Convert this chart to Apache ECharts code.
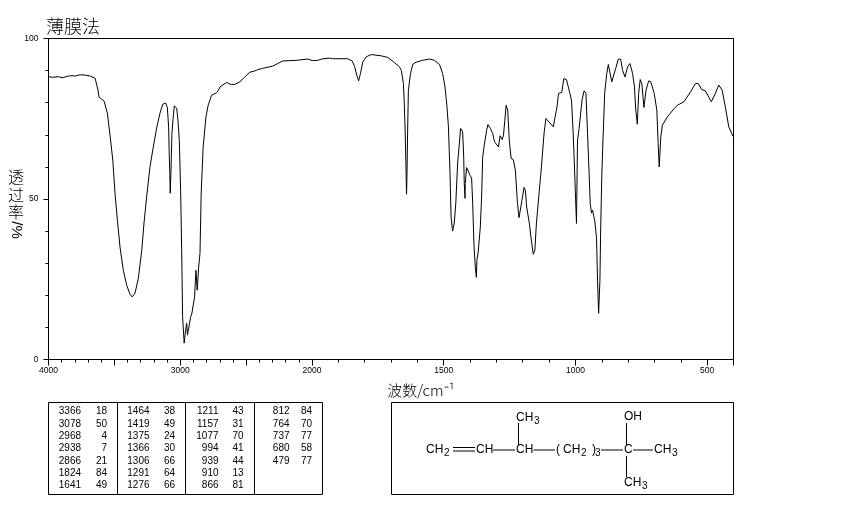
<!DOCTYPE html>
<html><head><meta charset="utf-8">
<style>html,body{margin:0;padding:0;background:#fff}#c{width:850px;height:510px}</style>
<script src="https://cdn.jsdelivr.net/npm/echarts@6/dist/echarts.min.js"></script>
</head><body><div id="c"></div>
<script>
const wavenumbers=[3995,3972,3927,3889,3851,3820,3798,3760,3722,3684,3646,3631,3624,3616,3601,3578,3570,3553,3533,3512,3495,3477,3457,3432,3406,3381,3364,3343,3318,3292,3275,3255,3230,3205,3179,3154,3133,3111,3098,3088,3083,3079,3076,3070,3063,3053,3045,3027,3017,3007,2997,2989,2982,2970,2962,2951,2945,2936,2921,2911,2901,2891,2881,2871,2860,2850,2841,2826,2805,2788,2762,2724,2709,2699,2686,2648,2618,2586,2548,2510,2472,2434,2411,2374,2298,2260,2222,2116,2033,1997,1978,1963,1933,1922,1865,1847,1838,1830,1823,1816,1807,1794,1775,1737,1712,1687,1668,1661,1653,1650,1646,1643,1641,1639,1637,1634,1626,1617,1605,1580,1554,1535,1516,1504,1495,1488,1482,1476,1472,1468,1466,1460,1454,1447,1441,1436,1428,1424,1422,1419,1418,1413,1407,1400,1394,1390,1385,1380,1376,1374,1369,1365,1361,1356,1352,1346,1337,1332,1323,1314,1307,1301,1292,1286,1278,1273,1268,1263,1257,1251,1244,1236,1228,1220,1214,1209,1203,1195,1190,1185,1175,1169,1160,1154,1148,1138,1129,1119,1112,1100,1084,1077,1070,1064,1062,1052,1044,1034,1024,1015,1009,1005,1001,996,992,986,975,967,960,954,948,944,939,935,926,920,916,912,907,904,900,895,889,881,875,869,862,856,847,837,828,821,812,802,793,783,776,771,765,760,754,748,740,732,722,714,701,691,686,682,676,670,651,625,613,588,563,544,534,521,507,484,469,456,443,431,418,402];
const transmittance=[88.1,87.9,88.1,87.8,88.3,88.4,88.3,88.7,88.6,88.3,87.6,87.0,83.9,81.7,81.1,80.5,80.2,76.7,69.9,62.1,51.8,43.4,35.0,27.8,23.1,20.3,19.5,20.7,25.3,34.0,42.5,50.6,59.9,66.1,72.1,76.7,79.5,79.9,78.6,72.4,63.0,58.0,51.8,59.0,70.5,75.5,79.0,78.3,74.5,68.3,52.7,34.0,13.3,5.1,8.2,11.3,7.6,8.2,13.2,14.5,14.4,19.5,27.8,21.6,28.8,33.1,51.8,66.1,75.5,79.2,82.3,83.1,83.9,84.9,85.1,86.3,85.7,85.7,86.5,88.0,89.5,89.9,90.3,90.7,91.4,92.2,93.0,93.2,93.6,93.1,93.2,93.6,93.9,93.7,93.7,93.0,91.2,88.6,86.8,89.1,92.7,94.3,95.0,94.6,94.1,92.5,91.2,90.1,86.0,80.8,70.5,59.0,51.5,59.0,70.5,83.9,89.1,92.0,92.6,93.2,93.6,93.2,91.9,89.1,84.9,79.2,72.5,58.0,44.4,41.3,40.0,42.5,48.7,61.2,66.8,72.0,70.9,63.1,54.9,50.2,54.9,59.8,60.0,57.4,56.5,48.7,35.6,28.8,25.6,30.9,33.5,34.0,41.3,50.7,63.1,66.8,71.4,73.2,72.0,70.4,67.8,68.1,66.2,69.7,68.5,69.9,74.5,79.2,77.7,68.3,62.6,62.3,59.0,48.7,44.2,44.6,49.6,53.6,52.7,47.5,42.5,38.2,32.8,34.0,42.5,51.8,60.0,70.5,75.1,74.0,72.5,72.5,78.7,82.9,83.1,83.2,87.5,87.2,83.9,80.8,71.4,63.1,53.8,42.4,68.3,72.0,80.8,83.7,82.9,70.5,58.0,48.7,45.6,46.5,42.9,37.8,24.7,14.4,24.7,41.3,56.9,69.3,82.9,89.1,91.9,91.7,86.5,86.0,90.7,93.6,93.5,90.1,88.0,91.2,92.2,89.1,84.9,77.7,73.3,82.9,87.2,86.0,78.5,83.9,86.8,86.5,82.9,77.7,67.3,60.0,69.3,73.0,75.6,78.2,79.2,80.3,83.4,86.0,86.0,84.1,83.7,80.3,82.9,85.5,83.9,78.7,72.5,69.5];
const majorTicks=[4000,3500,3000,2500,2000,1500,1000,500,400];
const xLabels=[4000,3000,2000,1500,1000,500];
const minorTicks=[3900,3800,3700,3600,3400,3300,3200,3100,2900,2800,2700,2600,2400,2300,2200,2100,1900,1800,1700,1600,1400,1300,1200,1100,900,800,700,600];
const tableColumns=[
 [[3366,18],[3078,50],[2968,4],[2938,7],[2866,21],[1824,84],[1641,49]],
 [[1464,38],[1419,49],[1375,24],[1366,30],[1306,66],[1291,64],[1276,66]],
 [[1211,43],[1157,31],[1077,70],[994,41],[939,44],[910,13],[866,81]],
 [[812,84],[764,70],[737,77],[680,58],[479,77]]
];
// The source chart's abscissa changes scale at 2000 cm-1 (half as many px per cm-1 above it)
const pos=w=>w<=2000?w:2000+(w-2000)/2;
const unpos=p=>p<=2000?p:2000+(p-2000)*2;
const LAT='"Liberation Sans",Arial,sans-serif', CJK='"Noto Sans CJK SC",sans-serif';
const g=[];
const T=(text,x,y,o={})=>g.push({type:'text',x,y,silent:true,style:Object.assign({text,fill:'#000',font:'12px '+LAT,textAlign:'left',textVerticalAlign:'middle'},o)});
const L=(x1,y1,x2,y2,w=1)=>g.push({type:'line',silent:true,shape:{x1,y1,x2,y2},style:{stroke:'#000',lineWidth:w}});
const R=(x,y,width,height)=>g.push({type:'rect',silent:true,shape:{x,y,width,height},style:{fill:'none',stroke:'#000',lineWidth:1}});
// peak table
R(48.5,402.5,274,92);
[117.5,185.5,254.5].forEach(x=>L(x,402.5,x,494.5));
const colX=[[81,107],[149.5,175],[218.5,243.5],[289.5,312]];
tableColumns.forEach((col,c)=>col.forEach((row,r)=>{
 const y=411.7+r*12.33;
 T(String(row[0]),colX[c][0],y,{font:'10px '+LAT,textAlign:'right'});
 T(String(row[1]),colX[c][1],y,{font:'10px '+LAT,textAlign:'right'});
}));
// structure
R(391.5,402.5,342,92);
const sub=(t,x,y)=>T(t,x,y+3.5,{font:'10px '+LAT});
T('CH',426,450);sub('2',444,450);
L(453,447.5,475,447.5);L(453,451,475,451);
T('CH',476,450);L(493,450,515,450);
T('CH',516,450);L(533.5,450,555,450);
T('(',556,450);T('CH',563,450);sub('2',581,450);T(')',592,450);sub('3',595,450);
L(601,450,623,450);
T('C',624,450);L(633,450,653,450);
T('CH',654,450);sub('3',672,450);
T('CH',516,418);sub('3',534,418);L(518.5,423,518.5,445);
T('OH',624,417);L(626.5,423,626.5,445);L(626.5,456,626.5,477);
T('CH',624,483);sub('3',642,483);
// y-axis name, stacked upright with the unit turned sideways
['透','过','率'].forEach((ch,i)=>T(ch,16,177+i*17.5,{font:'300 16px '+CJK,textAlign:'center'}));
g.push({type:'text',x:16,y:230,rotation:-Math.PI/2,silent:true,style:{text:'/%',fill:'#000',font:'300 15px '+LAT,textAlign:'center',textVerticalAlign:'middle'}});

const chart=echarts.init(document.getElementById('c'),null,{renderer:'canvas'});
const tick={color:'#000',width:1};
chart.setOption({
 animation:false,backgroundColor:'#fff',
 title:{text:'薄膜法',left:41,top:12,textStyle:{fontFamily:CJK,fontWeight:300,fontSize:18,color:'#000'}},
 grid:{left:48.5,right:116.5,top:38.5,bottom:150.5,show:true,borderColor:'#000',borderWidth:1,backgroundColor:'#fff'},
 xAxis:[{type:'value',inverse:true,min:pos(400),max:pos(4000),position:'bottom',
   name:'波数/cm⁻¹',nameLocation:'middle',nameGap:23,
   nameTextStyle:{fontFamily:CJK,fontWeight:300,fontSize:15,color:'#000',padding:[0,0,0,60]},
   splitLine:{show:false},
   axisLine:{show:true,lineStyle:{color:'#000',width:1}},
   axisTick:{show:true,length:6,lineStyle:tick,customValues:majorTicks.map(pos)},
   axisLabel:{show:true,color:'#000',fontFamily:LAT,fontSize:8.5,margin:7,customValues:xLabels.map(pos),formatter:v=>String(unpos(v)),hideOverlap:false,showMinLabel:true,showMaxLabel:true,alignMaxLabel:'center',alignMinLabel:'center'}},
  {type:'value',inverse:true,min:pos(400),max:pos(4000),position:'bottom',
   splitLine:{show:false},axisLine:{show:false},axisLabel:{show:false},
   axisTick:{show:true,length:3,lineStyle:tick,customValues:minorTicks.map(pos)}}],
 yAxis:{type:'value',min:0,max:100,interval:50,
   splitLine:{show:false},
   axisLine:{show:true,lineStyle:{color:'#000',width:1}},
   axisTick:{show:true,length:5,lineStyle:tick},
   minorTick:{show:true,splitNumber:5,length:3,lineStyle:tick},
   axisLabel:{color:'#000',fontFamily:LAT,fontSize:8.5,margin:10}},
 series:[{type:'line',xAxisIndex:0,yAxisIndex:0,showSymbol:false,symbol:'none',silent:true,
   lineStyle:{color:'#000',width:1},
   data:wavenumbers.map((w,i)=>[pos(w),transmittance[i]])}],
 graphic:g
});
</script></body></html>
